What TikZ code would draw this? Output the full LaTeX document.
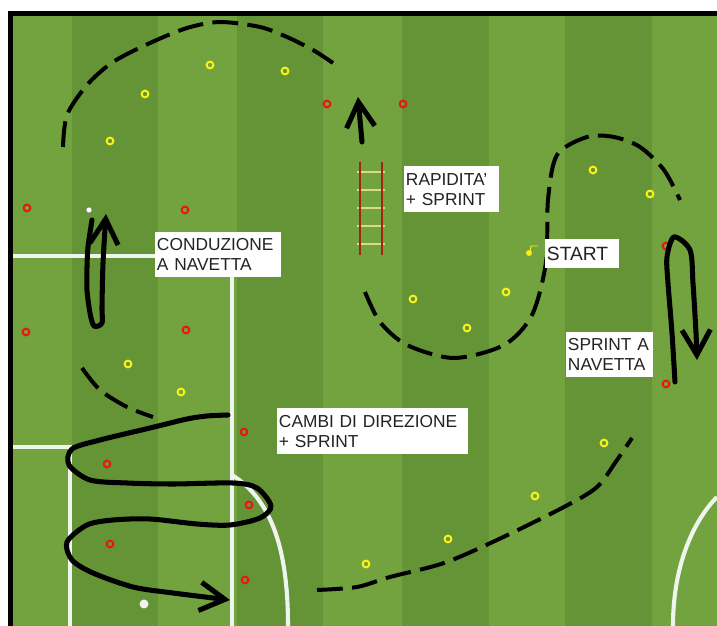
\documentclass[tikz,border=0pt]{standalone}
\usepackage{fontspec}
\setmainfont{Liberation Sans}
\usetikzlibrary{arrows.meta, positioning}
\definecolor{grasslight}{RGB}{114,163,62}
\definecolor{grassdark}{RGB}{100,148,53}
\definecolor{chalk}{RGB}{240,244,238}
\definecolor{conered}{RGB}{238,20,20}
\definecolor{coneyellow}{RGB}{250,240,25}
\definecolor{railred}{RGB}{165,35,20}
\definecolor{rungyellow}{RGB}{222,214,140}
\definecolor{labelgrey}{RGB}{35,35,35}
\tikzset{
>={Straight Barb[length=0.75cm,width=0.85cm]}, % open arrow heads on the runs
run/.style={line width=4.3pt, line cap=round, line join=round}, % solid runs
jog/.style={line width=3.4pt, dash pattern=on 22pt off 8pt}, % dashed runs
pitchline/.style={chalk, line width=3.5pt}, % white markings
cone/.style={line width=1.7pt}, % small ring markers
tag/.style 2 args={fill=white, text=labelgrey, anchor=north west, align=left,
  inner xsep=1.5pt, inner ysep=0pt, text width=#1, minimum height=#2,
  font=\fontsize{14.8}{17}\selectfont}, % white text boxes
}

\begin{document}
\begin{tikzpicture}[x=0.03cm, y=-0.03cm]
    \useasboundingbox[fill=white] (0,0) rectangle (717,626);
    % frame and grass stripes
    \fill[black] (8,11) rectangle (717,626);
    \fill[grasslight] (13,16) rectangle (717,626);
    \foreach \a/\b in {72/158, 237/323, 402/489, 565/652}
        \fill[grassdark] (\a,16) rectangle (\b,626);

    % markings
    \draw[pitchline] (13,256) -- (232,256) -- (232,626);
    \draw[pitchline] (13,447) -- (70,447) -- (70,626);
    \draw[pitchline] (232,475) .. controls (272,500) and (288,550) .. (288,626);
    \draw[pitchline] (717,497) .. controls (697,517) and (673,560) .. (673,626);
    \fill[chalk] (144,604) circle (4.5);

    % ladder
    \foreach \y in {172,190,208,226,244}
        \draw[rungyellow, line width=2.4pt] (357,\y) -- (385,\y);
    \draw[railred, line width=1.6pt] (360,162) -- (360,255) (382,162) -- (382,255);

    % cones
    \foreach \p in {(210,65),(285,71),(145,94),(110,141),(593,170),(650,194),
                    (413,299),(506,292),(467,328),(128,364),(181,392),(604,443),
                    (535,496),(448,539),(366,564)}
        \draw[cone, coneyellow] \p circle (3.4);
    \foreach \p in {(27,208),(185,210),(327,104),(403,104),(666,246),(26,332),
                    (186,330),(244,432),(107,464),(249,505),(110,544),(245,580),
                    (666,384)}
        \draw[cone, conered] \p circle (3.4);

    % ball and start marker
    \draw[gray, fill=white, line width=0.5pt] (89,210) circle (3);
    \fill[coneyellow] (529,253) circle (3);
    \draw[coneyellow, line width=0.8pt] (530,252) -- (531,246) -- (538,246);

    % dashed runs
    \draw[jog] plot[smooth] coordinates {(63,147) (67,115) (87,85) (113,62) (150,43)
        (187,28) (220,22) (260,27) (287,37) (313,50) (333,63)};
    \draw[jog] plot[smooth] coordinates {(365,292) (380,322) (407,345) (454,358)
        (504,345) (532,315) (546,262) (548,200) (557,155) (587,137) (614,137)
        (640,147) (664,170) (680,200)};
    \draw[jog] plot[smooth] coordinates {(82,368) (100,390) (127,407) (153,417)};
    \draw[jog] plot[smooth] coordinates {(317,590) (357,587) (390,577) (444,563)
        (497,540) (564,507) (597,487) (617,460) (632,438)};

    % solid runs
    \draw[run, ->] plot[smooth] coordinates {(92,220) (88,247) (87,267) (87,290)
        (90,313) (94,326) (102,323) (102,307) (103,263) (106,214)};
    \draw[run, ->] (362,142) -- (358,97);
    \draw[run, ->] plot[smooth] coordinates {(675,382) (672,333) (668,283) (667,257)
        (674,237) (690,250) (693,283) (696,333) (697,360)};
    \draw[run, ->] plot[smooth] coordinates {(228,415) (207,416) (187,419) (150,428)
        (100,440) (72,449) (69,465) (90,480) (127,483) (173,484) (233,483) (257,488)
        (271,506) (260,518) (230,525) (197,524) (150,519) (113,520) (87,525) (67,542)
        (72,560) (93,573) (133,587) (173,593) (230,600)};

    % labels
    \node[tag={3.67cm}{1.35cm}] (conduzione) at (155,232) {CONDUZIONE\\A NAVETTA};
    \node[tag={2.74cm}{1.38cm}] (rapidita) at (404,166) {RAPIDITA'\\+ SPRINT};
    \node[tag={2.11cm}{0.87cm}, font=\fontsize{16.4}{18}\selectfont] (start) at (545,239) {START};
    \node[tag={2.50cm}{1.35cm}] (sprint) at (566,332) {SPRINT A\\NAVETTA};
    \node[tag={5.62cm}{1.38cm}] (cambi) at (277,408) {CAMBI DI DIREZIONE\\+ SPRINT};
\end{tikzpicture}
\end{document}
